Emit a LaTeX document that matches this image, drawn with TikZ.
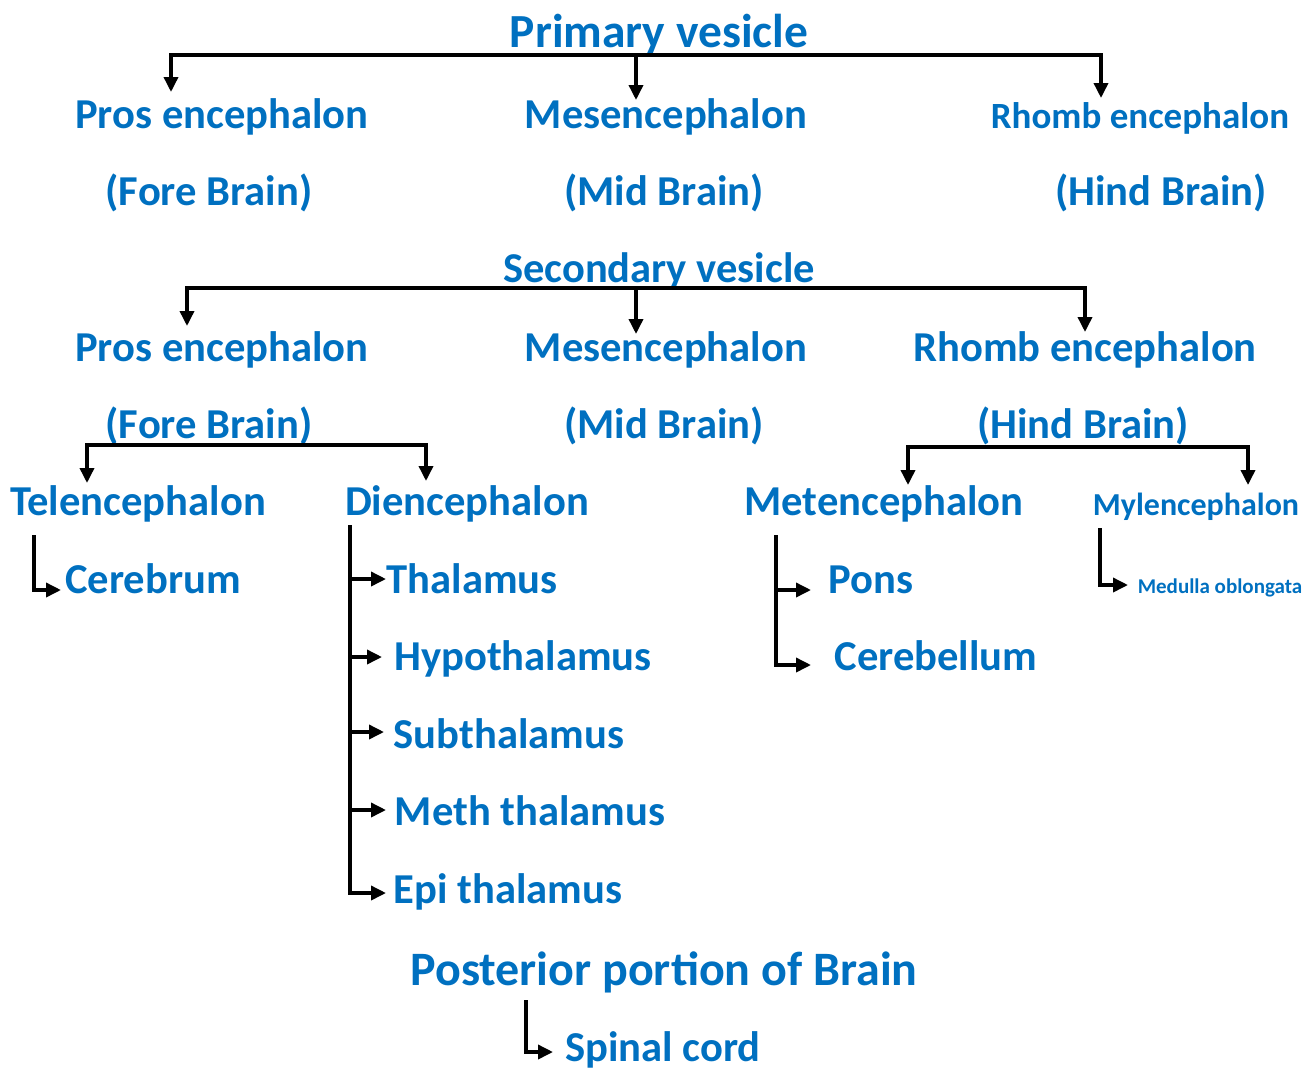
\documentclass[tikz,border=0pt]{standalone}
\usepackage{fontspec}
\setmainfont{Carlito}
\usetikzlibrary{arrows.meta}
\definecolor{tblue}{HTML}{0070C0}
\begin{document}
\begin{tikzpicture}[x=1pt,y=-1pt,
  lbl/.style={text=tblue,font=\bfseries\fontsize{#1}{#1}\selectfont,inner sep=0pt,anchor=base},
  lbl/.default=42.6,
  bar/.style={line width=3.5pt,line cap=rect},
  conn/.style={line width=3.5pt,-{Triangle[length=15pt,width=14pt]}}
]
\useasboundingbox (0,0) rectangle (1304,1071);
% primary
\node[lbl=47.5] (pv) at (659,47) {Primary vesicle};
\node[lbl] (pe1) at (222,128) {Pros encephalon};
\node[lbl] (me1) at (666,128) {Mesencephalon};
\node[lbl=37] (rh1) at (1140,128) {Rhomb encephalon};
\node[lbl] (fb1) at (209,205) {(Fore Brain)};
\node[lbl] (mb1) at (664,205) {(Mid Brain)};
\node[lbl] (hb1) at (1161,205) {(Hind Brain)};
\coordinate (p1L) at (171,55);
\coordinate (p1M) at (636,55);
\coordinate (p1R) at (1101,55);
\draw[bar] (p1L) -- (p1R);
\draw[conn] (p1L) -- ++(0,37);
\draw[conn] (p1M) -- ++(0,45);
\draw[conn] (p1R) -- ++(0,43);
% secondary
\node[lbl=42.5] (sv) at (659,282) {Secondary vesicle};
\node[lbl] (pe2) at (222,361) {Pros encephalon};
\node[lbl] (me2) at (666,361) {Mesencephalon};
\node[lbl] (rh2) at (1085,361) {Rhomb encephalon};
\node[lbl] (fb2) at (209,438) {(Fore Brain)};
\node[lbl] (mb2) at (664,438) {(Mid Brain)};
\node[lbl] (hb2) at (1083,438) {(Hind Brain)};
\coordinate (s1L) at (187,288);
\coordinate (s1M) at (636,288);
\coordinate (s1R) at (1085,288);
\draw[bar] (s1L) -- (s1R);
\draw[conn] (s1L) -- ++(0,38);
\draw[conn] (s1M) -- ++(0,46);
\draw[conn] (s1R) -- ++(0,44);
% fore brain split
\node[lbl] (tel) at (138,515) {Telencephalon};
\node[lbl] (die) at (467,515) {Diencephalon};
\coordinate (fL) at (87,445);
\coordinate (fR) at (426,445);
\draw[bar] (fL) -- (fR);
\draw[conn] (fL) -- ++(0,38);
\draw[conn] (fR) -- ++(0,36);
% hind brain split
\node[lbl] (met) at (884,515) {Metencephalon};
\node[lbl=32] (myl) at (1196,515) {Mylencephalon};
\coordinate (hL) at (908,447);
\coordinate (hR) at (1248,447);
\draw[bar] (hL) -- (hR);
\draw[conn] (hL) -- ++(0,38);
\draw[conn] (hR) -- ++(0,38);
% telencephalon
\node[lbl] (cer) at (153,593) {Cerebrum};
\coordinate (t0) at (34,535);
\draw[conn] (t0) |- (61,590);
% diencephalon
\node[lbl] (tha) at (472,593) {Thalamus};
\node[lbl] (hyp) at (523,670) {Hypothalamus};
\node[lbl] (sub) at (509,748) {Subthalamus};
\node[lbl] (met2) at (530,825) {Meth thalamus};
\node[lbl] (epi) at (508,903) {Epi thalamus};
\coordinate (d0) at (350,525);
\draw[conn] (d0) |- (386,893);
\draw[conn] (350,579) -- (386,579);
\draw[conn] (350,657) -- (382,657);
\draw[conn] (350,732) -- (384,732);
\draw[conn] (350,810) -- (386,810);
% metencephalon
\node[lbl] (pons) at (871,593) {Pons};
\node[lbl] (cbl) at (936,670) {Cerebellum};
\coordinate (m0) at (776,535);
\draw[conn] (m0) |- (811,665);
\draw[conn] (776,590) -- (811,590);
% mylencephalon
\node[lbl=21] (med) at (1220,593) {Medulla oblongata};
\coordinate (y0) at (1100,528);
\draw[conn] (y0) |- (1128,585);
% posterior
\node[lbl=48] (pos) at (664,985) {Posterior portion of Brain};
\node[lbl] (spc) at (663,1061) {Spinal cord};
\coordinate (q0) at (526,1000);
\draw[conn] (q0) |- (553,1052);
\end{tikzpicture}
\end{document}
